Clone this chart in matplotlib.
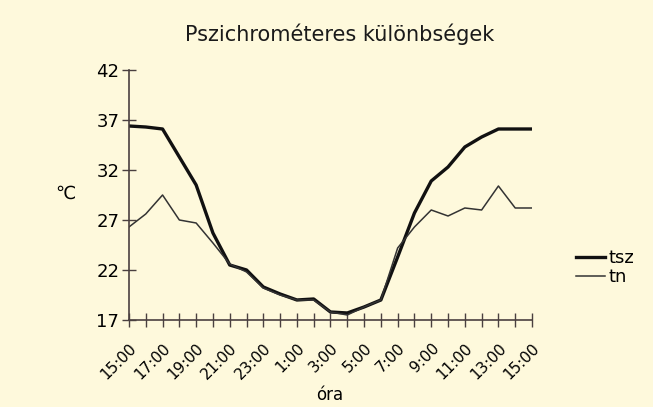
import matplotlib
matplotlib.use("Agg")
import matplotlib.pyplot as plt

hours = [15, 16, 17, 18, 19, 20, 21, 22, 23, 0, 1, 2, 3, 4, 5, 6, 7, 8, 9, 10, 11, 12, 13, 14, 15]
tsz = [36.4, 36.3, 36.1, 33.3, 30.5, 25.7, 22.5, 22.0, 20.3, 19.6, 19.0, 19.1, 17.8, 17.7,
       18.3, 19.0, 23.3, 27.7, 30.9, 32.3, 34.3, 35.3, 36.1, 36.1, 36.1]
tn = [26.3, 27.6, 29.5, 27.0, 26.7, 24.7, 22.6, 21.8, 20.2, 19.5, 19.0, 19.0, 17.8, 17.5,
      18.3, 19.0, 24.2, 26.3, 28.0, 27.4, 28.2, 28.0, 30.4, 28.2, 28.2]
yticks = [17, 22, 27, 32, 37, 42]

bg = '#FEF9DC'
axc = '#4a4040'

fig = plt.figure(figsize=(6.53, 4.07), dpi=100, facecolor=bg)
ax = fig.add_axes([0.1975, 0.2138, 0.6172, 0.6142], facecolor=bg)

x = list(range(len(hours)))
ax.plot(x, tsz, color='#111111', lw=2.4, label='tsz', solid_joinstyle='round')
ax.plot(x, tn, color='#333333', lw=1.1, label='tn')

ax.set_xlim(0, 24)
ax.set_ylim(17, 42)
ax.set_yticks(yticks)
ax.set_xticks(x)
labels = ['%d:00' % h if i % 2 == 0 else '' for i, h in enumerate(hours)]
ax.set_xticklabels(labels, rotation=45, ha='right', rotation_mode='anchor', fontsize=11)
ax.tick_params(axis='y', labelsize=13, direction='inout', length=10, width=1, color=axc, pad=2)
ax.tick_params(axis='x', direction='inout', length=10, width=1, color=axc, pad=10)

for s in ['top', 'right']:
    ax.spines[s].set_visible(False)
for s in ['left', 'bottom']:
    ax.spines[s].set_color(axc)
    ax.spines[s].set_linewidth(1.2)

fig.text(0.52, 0.915, 'Pszichrométeres különbségek', ha='center', va='center', fontsize=15, color='#1a1a1a')
fig.text(0.100, 0.525, '℃', ha='center', va='center', fontsize=13)
fig.text(0.505, 0.03, 'óra', ha='center', va='center', fontsize=12)

ax.legend(loc='center left', bbox_to_anchor=(1.07, 0.21), frameon=False, fontsize=13,
          handlelength=1.6, handletextpad=0.2, labelspacing=0.05)

fig.savefig('out.png', dpi=100, facecolor=bg)
